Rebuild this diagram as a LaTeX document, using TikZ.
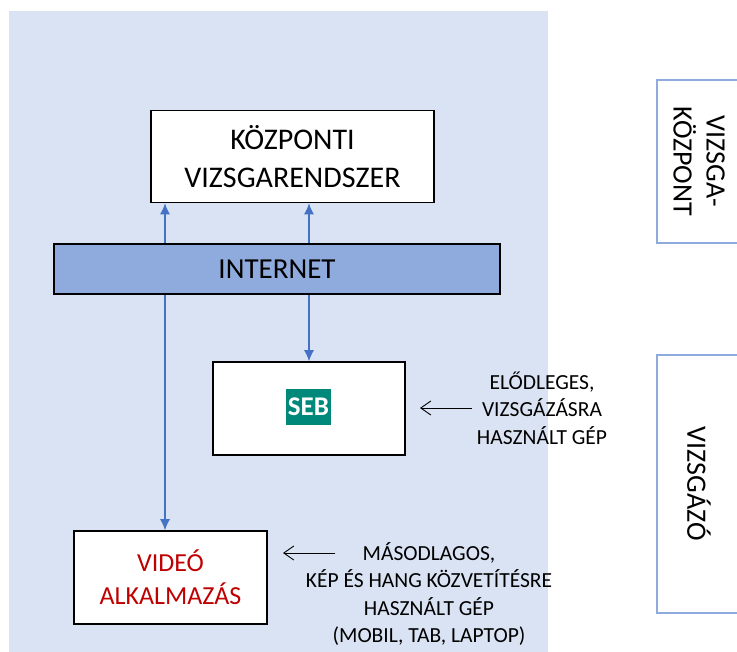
\documentclass[tikz,border=0pt]{standalone}
\usepackage{fontspec}
\setmainfont{Carlito}
\usetikzlibrary{arrows.meta}
\definecolor{bgblue}{RGB}{218,227,243}
\definecolor{netblue}{RGB}{143,170,220}
\definecolor{linkblue}{RGB}{68,114,196}
\definecolor{sebteal}{RGB}{0,137,123}
\definecolor{vidred}{RGB}{192,0,0}
\definecolor{sideblue}{RGB}{143,170,220}
\begin{document}
\begin{tikzpicture}[
    x=1pt, y=-1pt,
    box/.style={draw=black, line width=1.6pt, fill=white, align=center, inner sep=0pt},
    link/.style={draw=linkblue, line width=1.1pt, -{Latex[length=11pt,width=10pt]}},
    note/.style={align=center, inner sep=5pt, font=\fontsize{21.5}{27.5}\selectfont},
    pointer/.style={line width=0.9pt, -{Straight Barb[length=10pt,width=14pt]}},
    side/.style={draw=sideblue, line width=1.8pt, rotate=-90, align=center, inner sep=0pt, font=\fontsize{28}{33}\selectfont}
]
    \useasboundingbox (0,0) rectangle (737,652);
    % Background
    \fill[bgblue] (9,11) rectangle (548,652);

    % Boxes
    \node[box, minimum width=283pt, minimum height=92pt, font=\fontsize{30}{38}\selectfont] (ctrl) at (292.5,156.5) {KÖZPONTI\\VIZSGARENDSZER};
    \node[box, fill=netblue, minimum width=446pt, minimum height=50pt, font=\fontsize{29}{35}\selectfont] (inet) at (277,269) {INTERNET};
    \node[box, minimum width=192pt, minimum height=93pt] (seb) at (309,408.5) {};
    \node[fill=sebteal, text=white, font=\bfseries\fontsize{27}{30}\selectfont, minimum width=45pt, minimum height=36pt, inner sep=0pt] (seblbl) at (308.5,407) {SEB};
    \node[box, minimum width=193pt, minimum height=93pt, text=vidred, font=\fontsize{26}{33}\selectfont] (vid) at (170.5,577.5) {VIDEÓ\\ALKALMAZÁS};

    % Notes
    \node[note] (prim) at (542,408) {ELŐDLEGES,\\VIZSGÁZÁSRA\\HASZNÁLT GÉP};
    \node[note] (sec) at (429,594) {MÁSODLAGOS,\\KÉP ÉS HANG KÖZVETÍTÉSRE\\HASZNÁLT GÉP\\(MOBIL, TAB, LAPTOP)};
    \coordinate (primtip) at (420,408);
    \coordinate (sectip) at (283,553);
    \coordinate (sectail) at (335,553);
    \draw[pointer] (prim.west) -- (primtip);
    \draw[pointer] (sectail) -- (sectip);

    % Side labels
    \node[side, minimum width=163pt, minimum height=84pt] (centre) at (699,161.5) {VIZSGA-\\KÖZPONT};
    \node[side, minimum width=258pt, minimum height=84pt] (cand) at (699,484) {VIZSGÁZÓ};

    % Links
    \coordinate (vx) at (165,0);
    \draw[link] (inet.north -| vx) -- (ctrl.south -| vx);
    \draw[link] (inet.north -| seb.north) -- (ctrl.south -| seb.north);
    \draw[link] (inet.south -| seb.north) -- (seb.north);
    \draw[link] (inet.south -| vx) -- (vid.north -| vx);
\end{tikzpicture}
\end{document}
